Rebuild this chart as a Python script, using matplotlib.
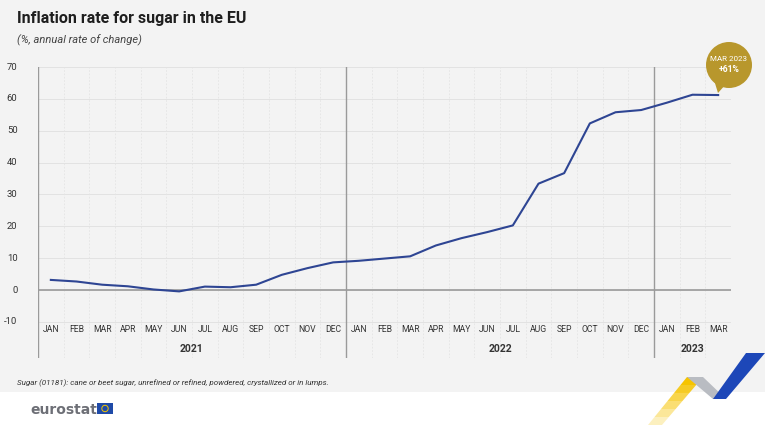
import matplotlib
matplotlib.use("Agg")
import matplotlib.pyplot as plt
from matplotlib.patches import Rectangle, Circle, Polygon

plt.rcParams['font.family'] = ['Roboto', 'DejaVu Sans']

months = ["JAN", "FEB", "MAR", "APR", "MAY", "JUN", "JUL", "AUG", "SEP", "OCT", "NOV", "DEC",
          "JAN", "FEB", "MAR", "APR", "MAY", "JUN", "JUL", "AUG", "SEP", "OCT", "NOV", "DEC",
          "JAN", "FEB", "MAR"]
years = ["2021", "2022", "2023"]
year_counts = [12, 12, 3]
inflation = [3.2, 2.7, 1.7, 1.2, 0.2, -0.4, 1.1, 0.9, 1.7, 4.8, 6.9, 8.7,
             9.2, 9.9, 10.6, 14.0, 16.3, 18.2, 20.3, 33.4, 36.7, 52.3, 55.8, 56.5,
             58.8, 61.3, 61.2]
yticks = [-10, 0, 10, 20, 30, 40, 50, 60, 70]

W, H = 765, 432
fig = plt.figure(figsize=(W / 100, H / 100), dpi=100)
fig.patch.set_facecolor("#f3f3f3")
fig.patches.append(Rectangle((0, 0), 1, 40 / H, transform=fig.transFigure,
                             facecolor="white", edgecolor="none", zorder=-1))

# main axes, pixel box 38..731 x 67..358
ax = fig.add_axes([38 / W, 1 - 358 / H, (731 - 38) / W, (358 - 67) / H])
ax.set_facecolor("none")
n = len(months)
x = list(range(n))
ax.set_xlim(-0.5, n - 0.5)
ax.set_ylim(-21.3, 70)

for t in yticks:
    ax.axhline(t, color="#e2e2e2", lw=0.7, zorder=1)
ax.axhline(0, color="#a0a0a0", lw=1.3, zorder=2)
for i in range(n + 1):
    ax.axvline(i - 0.5, color="#e4e4e4", lw=0.6, ls=(0, (2, 2)), zorder=1)

# year dividers
pos = 0
for k in year_counts[:-1]:
    pos += k
    ax.axvline(pos - 0.5, color="#9a9a9a", lw=1.0, zorder=2)

ax.plot(x, inflation, color="#2e4593", lw=1.5, zorder=3, solid_joinstyle="round")

for s in ax.spines.values():
    s.set_visible(False)
ax.axvline(-0.5, color="#9a9a9a", lw=1.0, zorder=2)
ax.set_xticks([])
ax.set_yticks([])
for t in yticks:
    ax.text(-1.3, t, str(t), ha="right", va="center", fontsize=6.8, color="#333333")
for i, m in enumerate(months):
    ax.text(i, -12.5, m, ha="center", va="center", fontsize=6.2, color="#333333")
pos = 0
for yr, k in zip(years, year_counts):
    ax.text(pos + (k - 1) / 2, -18.6, yr, ha="center", va="center",
            fontsize=7.5, fontweight="bold", color="#333333")
    pos += k

# titles and notes
fig.text(17 / W, 1 - 19 / H, "Inflation rate for sugar in the EU", fontsize=11.5,
         fontweight="bold", color="#1e1e1e", va="center")
fig.text(17 / W, 1 - 40 / H, "(%, annual rate of change)", fontsize=8,
         style="italic", color="#444444", va="center")
fig.text(17 / W, 1 - 383 / H,
         "Sugar (01181): cane or beet sugar, unrefined or refined, powdered, crystallized or in lumps.",
         fontsize=5.8, style="italic", color="#333333", va="center")

# overlay in pixel coords
ov = fig.add_axes([0, 0, 1, 1])
ov.set_xlim(0, W)
ov.set_ylim(H, 0)
ov.axis("off")
ov.set_facecolor("none")

gold = "#b8972c"
ov.add_patch(Polygon([(714, 80), (726, 84), (718, 93)], closed=True,
                     facecolor=gold, edgecolor="none"))
ov.add_patch(Circle((729, 65), 23, facecolor=gold, edgecolor="none"))
ov.text(729, 59, "MAR 2023", ha="center", va="center", color="white", fontsize=5.8)
ov.text(729, 70, "+61%", ha="center", va="center", color="white", fontsize=6.2,
        fontweight="bold")

# eurostat logo
ov.text(30, 410, "eurostat", fontsize=10, fontweight="bold", color="#6d6f76",
        va="center", ha="left", family=["DejaVu Sans"])
ov.add_patch(Rectangle((97, 403), 16, 11, facecolor="#1f4aa8", edgecolor="none"))
ov.add_patch(Circle((105, 408.5), 3.2, facecolor="none", edgecolor="#f2c500", lw=0.7))

# ribbons
for j in range(6):
    a = 0.25 + j * 0.15
    f0 = j / 6
    f1 = (j + 1) / 6
    p0 = (648 + (687 - 648) * f0, 425 + (377 - 425) * f0)
    p1 = (648 + (687 - 648) * f1, 425 + (377 - 425) * f1)
    q0 = (662 + (703 - 662) * f0, 425 + (377 - 425) * f0)
    q1 = (662 + (703 - 662) * f1, 425 + (377 - 425) * f1)
    ov.add_patch(Polygon([p0, q0, q1, p1], closed=True, facecolor="#f6c400",
                         edgecolor="none", alpha=min(a, 1)))
ov.add_patch(Polygon([(687, 377), (703, 377), (726, 399), (713, 399)], closed=True,
                     facecolor="#b9bcc2", edgecolor="none"))
ov.add_patch(Polygon([(713, 399), (726, 399), (765, 353), (746, 353)], closed=True,
                     facecolor="#1d47b8", edgecolor="none"))

fig.savefig("out.png", dpi=100)
